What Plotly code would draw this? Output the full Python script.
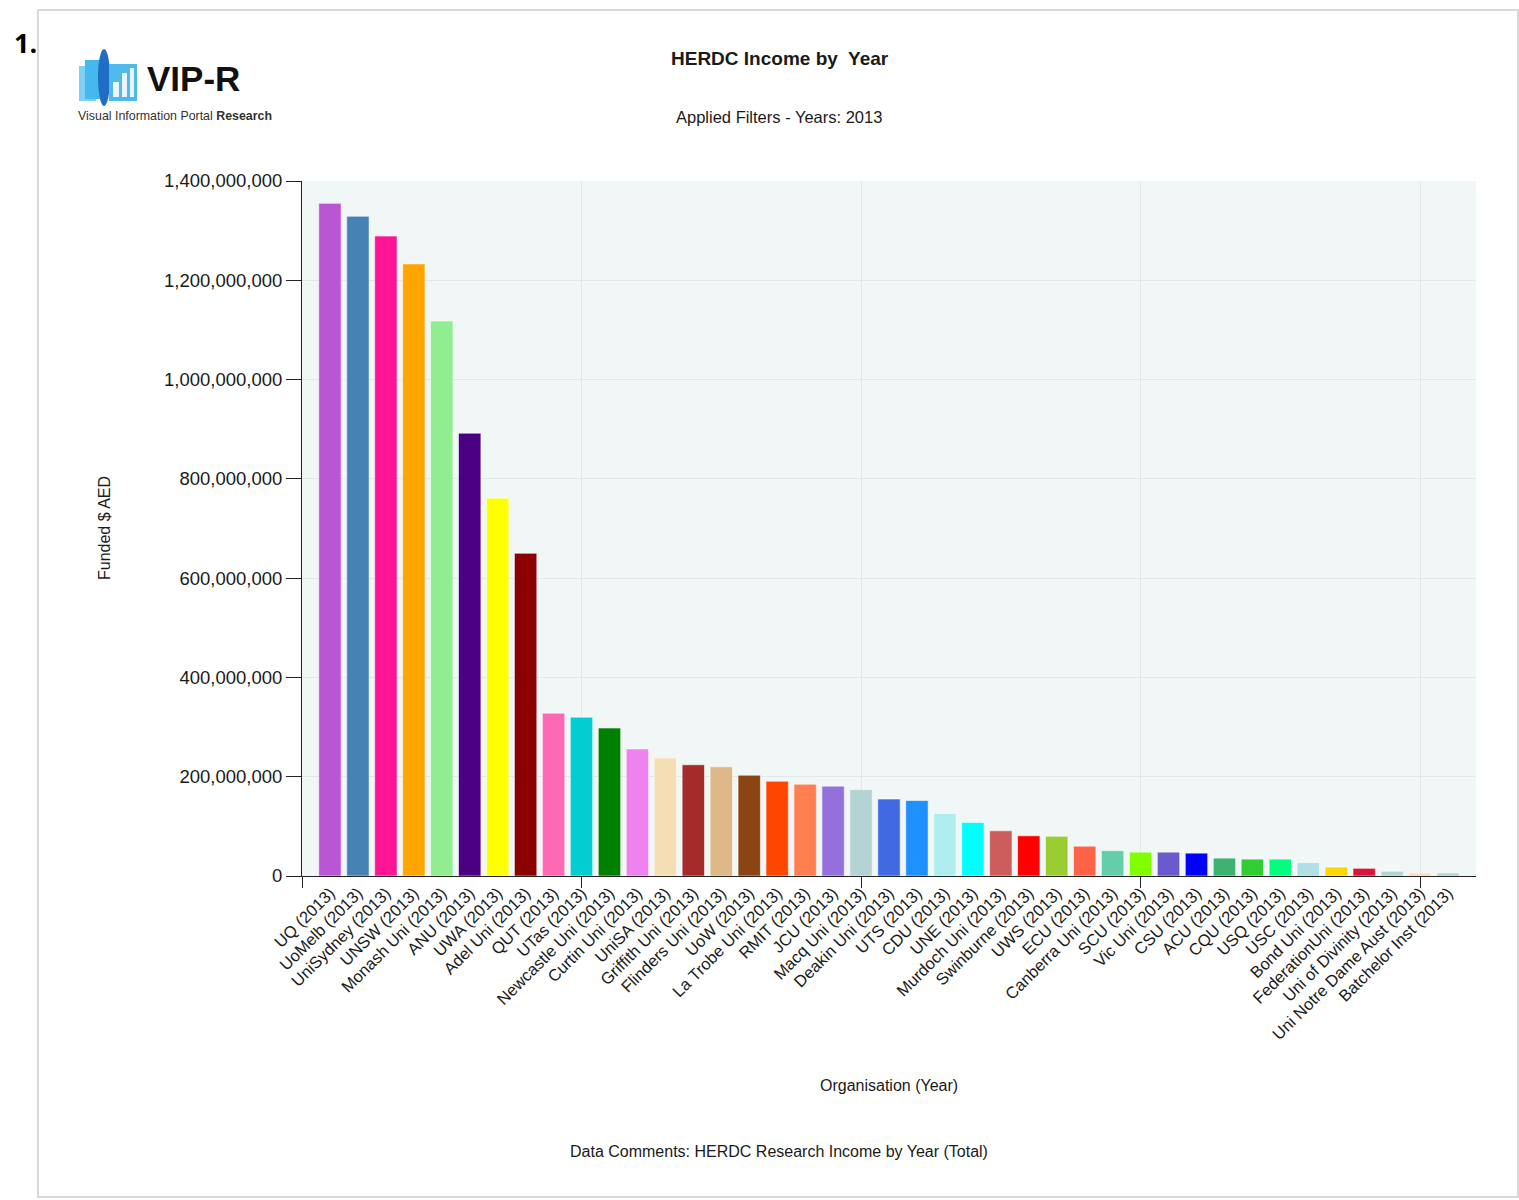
import plotly.graph_objects as go

# ---------------- data ----------------
organisations = [
    "UQ (2013)", "UoMelb (2013)", "UniSydney (2013)", "UNSW (2013)", "Monash Uni (2013)",
    "ANU (2013)", "UWA (2013)", "Adel Uni (2013)", "QUT (2013)", "UTas (2013)",
    "Newcastle Uni (2013)", "Curtin Uni (2013)", "UniSA (2013)", "Griffith Uni (2013)",
    "Flinders Uni (2013)", "UoW (2013)", "La Trobe Uni (2013)", "RMIT (2013)", "JCU (2013)",
    "Macq Uni (2013)", "Deakin Uni (2013)", "UTS (2013)", "CDU (2013)", "UNE (2013)",
    "Murdoch Uni (2013)", "Swinburne (2013)", "UWS (2013)", "ECU (2013)", "Canberra Uni (2013)",
    "SCU (2013)", "Vic Uni (2013)", "CSU (2013)", "ACU (2013)", "CQU (2013)", "USQ (2013)",
    "USC (2013)", "Bond Uni (2013)", "FederationUni (2013)", "Uni of Divinity (2013)",
    "Uni Notre Dame Aust (2013)", "Batchelor Inst (2013)",
]

funded = [
    1355e6, 1329e6, 1289e6, 1233e6, 1118e6,
    892e6, 761e6, 650e6, 328e6, 320e6,
    298e6, 256e6, 238e6, 224e6,
    220e6, 203e6, 191e6, 185e6, 181e6,
    174e6, 155e6, 152e6, 126e6, 108e6,
    91e6, 81e6, 80e6, 60e6, 51e6,
    48e6, 48e6, 46e6, 36e6, 34e6, 34e6,
    27e6, 18e6, 15.5e6, 9.5e6,
    6e6, 6e6,
]

bar_colors = [
    "mediumorchid", "steelblue", "deeppink", "orange", "lightgreen",
    "indigo", "yellow", "darkred", "hotpink", "darkturquoise",
    "green", "violet", "wheat", "brown",
    "burlywood", "saddlebrown", "orangered", "coral", "mediumpurple",
    "#B4D4D3", "royalblue", "dodgerblue", "paleturquoise", "cyan",
    "indianred", "red", "yellowgreen", "tomato", "mediumaquamarine",
    "chartreuse", "slateblue", "blue", "mediumseagreen", "limegreen", "springgreen",
    "powderblue", "gold", "crimson", "#B4D3D3",
    "peachpuff", "#B4D3D3",
]

y_ticks = [0, 200e6, 400e6, 600e6, 800e6, 1000e6, 1200e6, 1400e6]

# ---------------- figure ----------------
FONT = "Liberation Sans, Arial, sans-serif"
W, H = 1519, 1200
L, R, T, B = 302, 43, 181, 324
PW, PH = W - L - R, H - T - B


def px(x):
    return (x - L) / PW


def py(y):
    return (H - B - y) / PH


positions = list(range(1, len(organisations) + 1))

fig = go.Figure()
fig.add_trace(go.Bar(
    x=positions, y=funded, width=0.8,
    marker=dict(color=bar_colors, line=dict(color="rgba(255,255,255,0.55)", width=1)),
    hovertext=organisations, showlegend=False,
))
# helper trace so the secondary (grid/tick) x axis is drawn
fig.add_trace(go.Scatter(x=[None], y=[None], xaxis="x2", showlegend=False,
                         hoverinfo="skip", mode="markers"))

grid = "#E2E7E7"
axis_col = "#222222"

fig.update_layout(
    width=W, height=H,
    margin=dict(l=L, r=R, t=T, b=B, pad=0),
    paper_bgcolor="white", plot_bgcolor="#F1F6F6",
    font=dict(family=FONT, color="#1a1a1a"),
    showlegend=False,
    xaxis=dict(
        range=[0, len(organisations) + 1],
        tickmode="array", tickvals=positions, ticktext=organisations,
        tickangle=-45, ticks="", showgrid=False, zeroline=False,
        showline=True, linecolor=axis_col, linewidth=1,
        tickfont=dict(size=16.5, family=FONT, color="#1a1a1a"),
    ),
    xaxis2=dict(
        overlaying="x", anchor="y", side="bottom",
        range=[0, len(organisations) + 1],
        tickmode="linear", tick0=0, dtick=10,
        ticks="outside", ticklen=11, tickcolor=axis_col, tickwidth=1,
        showticklabels=False, showgrid=True, gridcolor=grid, gridwidth=1,
        zeroline=False, showline=False,
    ),
    yaxis=dict(
        range=[0, 1400e6], tickmode="array", tickvals=y_ticks,
        tickformat=",d", ticks="outside", ticklen=15, tickcolor=axis_col,
        showline=True, linecolor=axis_col, linewidth=1,
        showgrid=True, gridcolor=grid, gridwidth=1, zeroline=False,
        tickfont=dict(size=18.5, family=FONT, color="#1a1a1a"),
    ),
)

ann = []
ann.append(dict(text="<b>1.</b>", x=px(25), y=py(42), font=dict(size=27, family="Open Sans", color="black")))
ann.append(dict(text="<b>HERDC Income by\u00a0 Year</b>", x=px(780), y=py(59), font=dict(size=19, family=FONT, color="#1a1a1a")))
ann.append(dict(text="Applied Filters - Years: 2013", x=px(779), y=py(117), font=dict(size=16.5, family=FONT, color="#1a1a1a")))
ann.append(dict(text="Funded $ AED", x=px(104), y=py(528), textangle=-90, font=dict(size=16, family=FONT, color="#1a1a1a")))
ann.append(dict(text="Organisation (Year)", x=px(889), y=py(1085), font=dict(size=16, family=FONT, color="#1a1a1a")))
ann.append(dict(text="Data Comments: HERDC Research Income by Year (Total)", x=px(779), y=py(1151), font=dict(size=16, family=FONT, color="#1a1a1a")))
# logo text
ann.append(dict(text="<b>VIP-R</b>", x=px(193), y=py(78), font=dict(size=35, family=FONT, color="#111111")))
ann.append(dict(text="Visual Information Portal <b>Research</b>", x=px(76), y=py(116), xanchor="left",
                font=dict(size=12.4, family=FONT, color="#333333")))
for a in ann:
    a.setdefault("xanchor", "center")
    a.update(xref="paper", yref="paper", yanchor="middle", showarrow=False)
fig.update_layout(annotations=ann)

shapes = []
# outer frame
shapes.append(dict(type="rect", x0=px(38), x1=px(1518), y0=py(1197), y1=py(10),
                   line=dict(color="#D9D9D9", width=2), fillcolor="rgba(0,0,0,0)"))
# logo icon
shapes.append(dict(type="rect", x0=px(79), x1=px(96), y0=py(101), y1=py(66), line=dict(width=0), fillcolor="#7FD0F6"))
shapes.append(dict(type="rect", x0=px(85), x1=px(102), y0=py(99), y1=py(60), line=dict(width=0), fillcolor="#45B9EE"))
shapes.append(dict(type="circle", x0=px(98), x1=px(110), y0=py(106), y1=py(49), line=dict(width=0), fillcolor="#1F6DC4"))
shapes.append(dict(type="rect", x0=px(109), x1=px(137), y0=py(101), y1=py(64), line=dict(width=0), fillcolor="#4FB8EC"))
shapes.append(dict(type="rect", x0=px(113), x1=px(119), y0=py(97), y1=py(82), line=dict(width=0), fillcolor="#EAF6FD"))
shapes.append(dict(type="rect", x0=px(122), x1=px(127), y0=py(97), y1=py(73), line=dict(width=0), fillcolor="#EAF6FD"))
shapes.append(dict(type="rect", x0=px(130), x1=px(134), y0=py(97), y1=py(68), line=dict(width=0), fillcolor="#EAF6FD"))
for s in shapes:
    s.update(xref="paper", yref="paper", layer="above")
fig.update_layout(shapes=shapes)

fig.write_html("out.html",
               config={"displayModeBar": False},
               post_script="document.body.style.margin='0';document.body.style.overflow='hidden';")
